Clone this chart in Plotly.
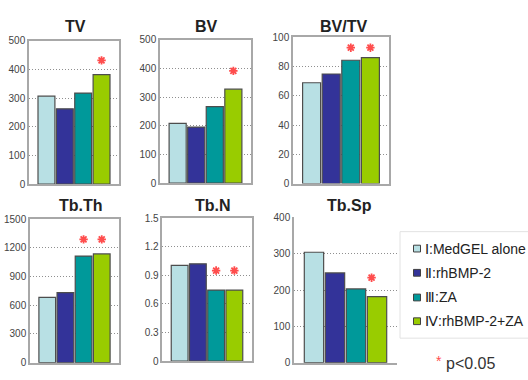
import plotly.graph_objects as go

W, H = 528, 380

# ---------------- data ----------------
groups = ["Ⅰ:MedGEL alone", "Ⅱ:rhBMP-2", "Ⅲ:ZA", "Ⅳ:rhBMP-2+ZA"]
panel_titles = ["TV", "BV", "BV/TV", "Tb.Th", "Tb.N", "Tb.Sp"]

TV = [307, 263, 318, 382]
BV = [209, 196, 267, 328]
BV_TV = [69, 75, 84.4, 86.2]
Tb_Th = [681, 731, 1113, 1136]
Tb_N = [1.005, 1.02, 0.745, 0.745]
Tb_Sp = [304, 247, 203, 182]
values = [TV, BV, BV_TV, Tb_Th, Tb_N, Tb_Sp]

y_max = [500, 500, 100, 1500, 1.5, 400]
y_step = [100, 100, 20, 300, 0.3, 100]

# significant groups (index) and the level of the star
sig = [[3], [3], [2, 3], [2, 3], [2, 3], [3]]
star_level = [432, 392, 93, 1288, 0.95, 234]
p_label = "p<0.05"

# ---------------- style ----------------
colors = ["#b8e0e4", "#333399", "#00999a", "#99cc00"]
star_color = "#ff4d4d"
font_fam = "Arial, Liberation Sans, sans-serif"
# plot boxes in pixels: x0, x1, y_top, y_bottom
boxes = [
    (29, 119, 36, 184),
    (160, 251, 35, 183),
    (293, 389, 32.5, 183.3),
    (30, 119, 220, 368.3),
    (162.3, 251.7, 219, 366.7),
    (294, 397, 218.3, 368.3),
]
framed = [True, True, True, True, True, False]
title_x = [63, 193, 318, 57, 193, 325]
title_y = [21.5, 21.5, 21.5, 206, 206, 206]
star_dx = [0, 0, 0, 0, 0, -0.26]


def px(x):
    return x / W


def py(y):
    return 1 - y / H


fig = go.Figure()
layout = dict(
    width=W, height=H, margin=dict(l=0, r=0, t=0, b=0),
    paper_bgcolor="white", plot_bgcolor="white", showlegend=False,
    font=dict(family=font_fam, color="#333"),
)
annotations = []
shapes = []

for i, vals in enumerate(values):
    n = "" if i == 0 else str(i + 1)
    xa, ya = "x" + n, "y" + n
    fig.add_trace(go.Bar(
        x=list(range(len(vals))), y=vals, width=0.92,
        marker=dict(color=colors, line=dict(color="#4d4d4d", width=1.2)),
        xaxis=xa, yaxis=ya, hoverinfo="skip",
    ))
    sx = [k + star_dx[i] for k in sig[i]]
    fig.add_trace(go.Scatter(
        x=sx, y=[star_level[i]] * len(sx), mode="markers",
        marker=dict(symbol="asterisk-open", size=7, color=star_color,
                    line=dict(color=star_color, width=1.8)),
        xaxis=xa, yaxis=ya, hoverinfo="skip",
    ))
    x0, x1, yt, yb = boxes[i]
    layout["xaxis" + n] = dict(
        domain=[px(x0), px(x1)], range=[-0.95, 3.95], anchor=ya,
        showticklabels=False, showgrid=False, zeroline=False, ticks="",
        showline=True, linecolor="#a8a8a8", linewidth=1.5,
        mirror=framed[i], fixedrange=True,
    )
    layout["yaxis" + n] = dict(
        domain=[py(yb), py(yt)], range=[0, y_max[i]], dtick=y_step[i],
        anchor=xa, showgrid=True, gridcolor="#8f8f8f", griddash="1px,2px",
        gridwidth=1, zeroline=False, ticks="", showline=True,
        linecolor="#a8a8a8", linewidth=1.5, mirror=framed[i],
        tickfont=dict(size=10, color="#444", family=font_fam),
        fixedrange=True,
    )
    annotations.append(dict(
        text="<b>" + panel_titles[i] + "</b>", xref="paper", yref="paper",
        x=px(title_x[i]), y=py(title_y[i]), xanchor="left", yanchor="middle",
        showarrow=False, font=dict(size=16, color="#222", family=font_fam),
    ))

# legend box
shapes.append(dict(type="rect", xref="paper", yref="paper",
                   x0=px(400), x1=px(560), y0=py(343), y1=py(233),
                   line=dict(color="#e2e2e2", width=1), fillcolor="white",
                   layer="below"))
row_y = [250.5, 275.5, 301, 325.5]
for k, label in enumerate(groups):
    shapes.append(dict(type="rect", xref="paper", yref="paper",
                       x0=px(413.5), x1=px(420.5),
                       y0=py(row_y[k] + 3.5), y1=py(row_y[k] - 3.5),
                       line=dict(color="#404040", width=1),
                       fillcolor=colors[k]))
    annotations.append(dict(
        text=label, xref="paper", yref="paper", x=px(423), y=py(row_y[k]),
        xanchor="left", yanchor="middle", showarrow=False,
        font=dict(size=14, color="#222", family=font_fam),
    ))

annotations.append(dict(
    text="*", xref="paper", yref="paper", x=px(438.5), y=py(367),
    xanchor="center", yanchor="middle", showarrow=False,
    font=dict(size=14, color=star_color, family=font_fam),
))
annotations.append(dict(
    text=p_label, xref="paper", yref="paper", x=px(444), y=py(369),
    xanchor="left", yanchor="middle", showarrow=False,
    font=dict(size=16, color="#333", family=font_fam),
))

layout["annotations"] = annotations
layout["shapes"] = shapes
fig.update_layout(**layout)

fig.write_html("out.html", config={"displayModeBar": False},
               post_script="document.body.style.margin='0';")
